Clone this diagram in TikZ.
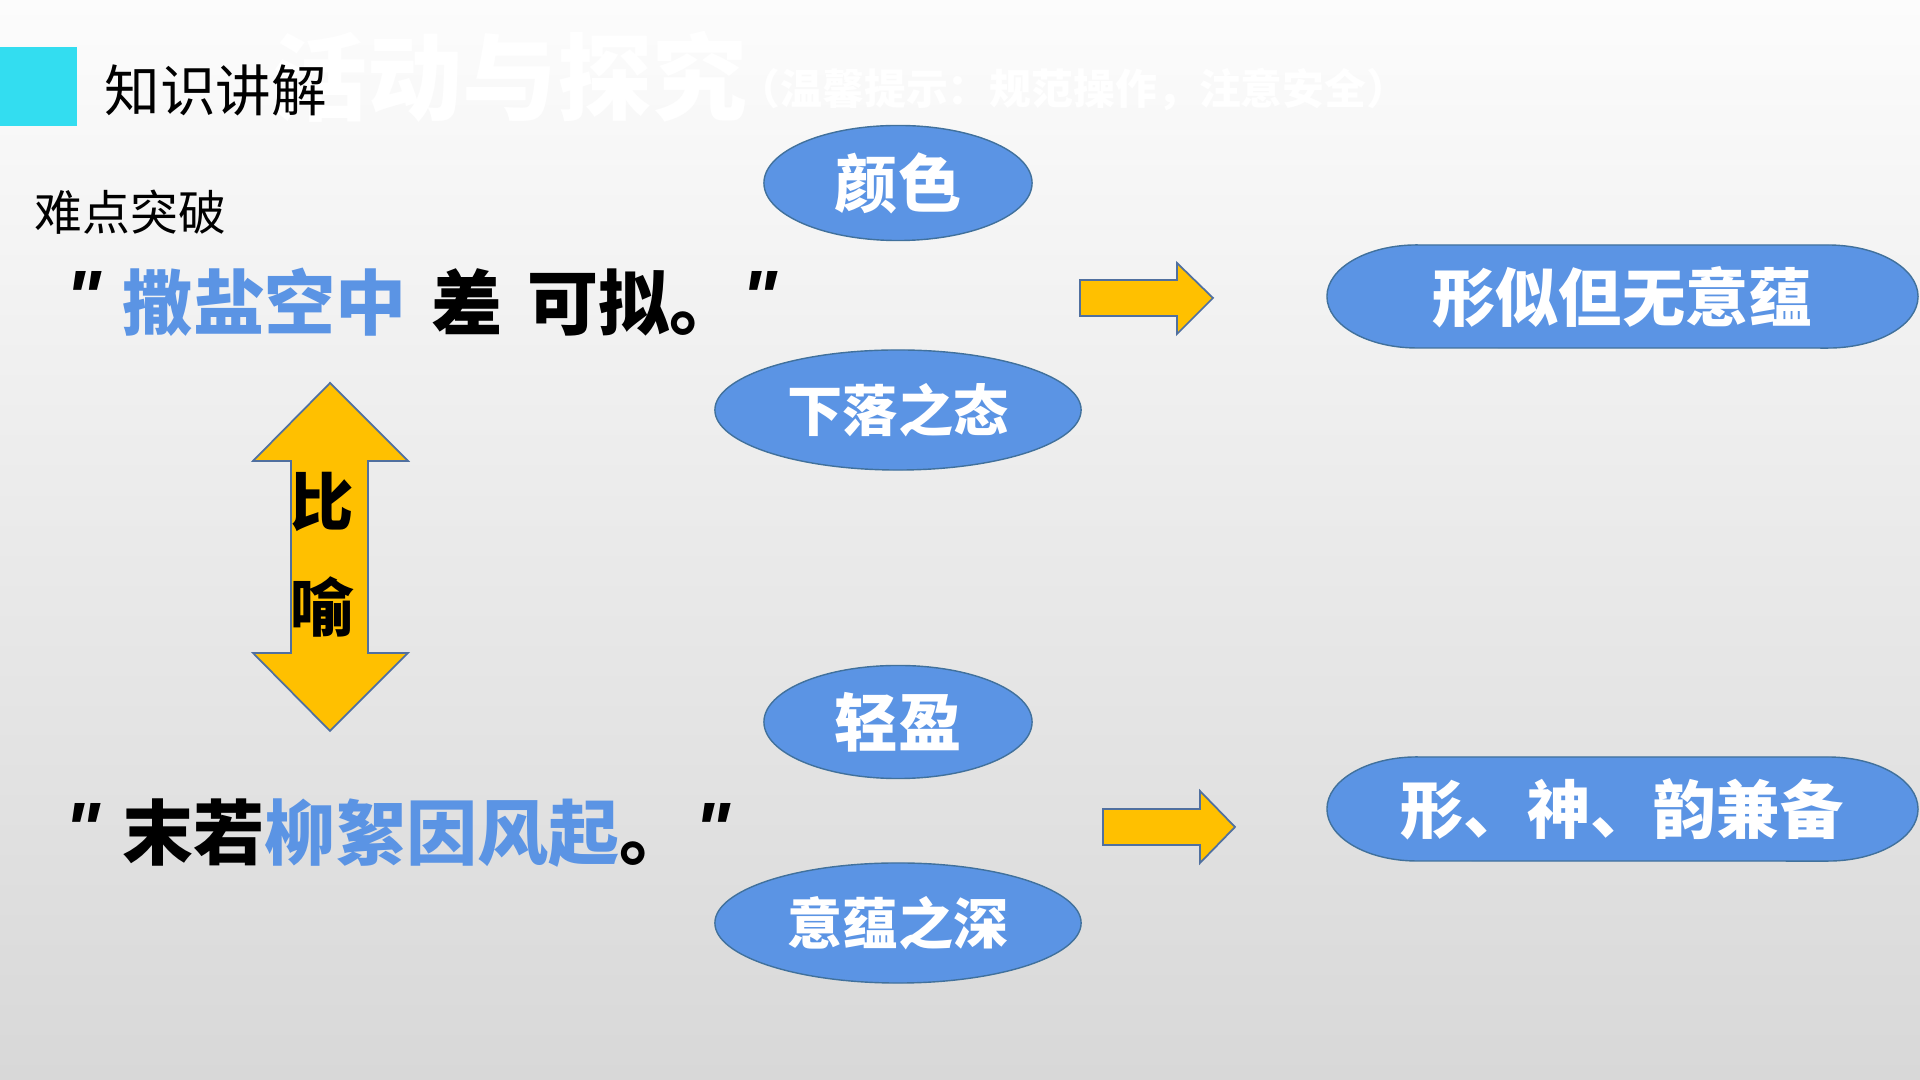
\documentclass[tikz,border=0pt]{standalone}
\usepackage{fontspec}
\setmainfont{Noto Sans CJK SC}
\newfontfamily\quotefont{Liberation Sans}
\usepackage{tikz}
\usetikzlibrary{shapes.geometric}
\definecolor{bgtop}{RGB}{252,252,252}
\definecolor{bgbottom}{RGB}{216,216,216}
\definecolor{tabcyan}{RGB}{51,221,240}
\definecolor{bubbleblue}{RGB}{91,148,228}
\definecolor{bubbleline}{RGB}{65,113,156}
\definecolor{arrowgold}{RGB}{255,192,0}
\definecolor{arrowline}{RGB}{80,112,160}

\begin{document}
\begin{tikzpicture}[x=0.01cm,y=-0.01cm,
    every node/.style={inner sep=0pt},
    bubble/.style={ellipse,draw=bubbleline,line width=0.4pt,fill=bubbleblue,text=white},
    capsule/.style={draw=bubbleline,line width=0.4pt,fill=bubbleblue},
    bigtext/.style={font=\bfseries\fontsize{18}{20}\selectfont},
    smalltext/.style={font=\bfseries\fontsize{15.7}{18}\selectfont},
    verse/.style={anchor=west,font=\bfseries\fontsize{20.2}{24}\selectfont},
    quotemark/.style={anchor=base west,font=\quotefont\bfseries\itshape\fontsize{21.5}{24}\selectfont},
    blockarrow/.style={fill=arrowgold,draw=arrowline,line width=0.5pt,line join=miter}]
      % page
      \shade[top color=bgtop,bottom color=bgbottom] (0,0) rectangle (1920,1080);
      \useasboundingbox (0,0) rectangle (1920,1080);
      % heading
      \node[anchor=west,text=white,font=\bfseries\fontsize{27}{30}\selectfont] (ghost) at (272,77) {活动与探究};
      \node[anchor=west,text=white,font=\bfseries\fontsize{11.9}{14}\selectfont] (ghostnote) at (738,90) {（温馨提示：规范操作，注意安全）};
      \fill[tabcyan] (0,47) rectangle (77,126);
      \node[anchor=west,font=\fontsize{15.8}{18}\selectfont] (topic) at (104,90) {知识讲解};
      \node[anchor=west,font=\fontsize{13.6}{16}\selectfont] (focus) at (34,212) {难点突破};
      % the two lines
      \node[verse] (lineA) at (122,302) {\textcolor{bubbleblue}{撒盐空中}\hspace{7pt}差\hspace{7pt}可拟。};
      \node[quotemark] (qAl) at (65,324) {"};
      \node[quotemark] (qAr) at (741,324) {"};
      \node[verse] (lineB) at (122,833) {末若\textcolor{bubbleblue}{柳絮因风起}。};
      \node[quotemark] (qBl) at (64,856) {"};
      \node[quotemark] (qBr) at (694,856) {"};
      % comparison arrow
      \filldraw[blockarrow] (330,383) -- (408,461) -- (368,461) -- (368,653) -- (408,653)
        -- (330,731) -- (253,653) -- (291,653) -- (291,461) -- (253,461) -- cycle;
      \node[font=\bfseries\fontsize{18}{20}\selectfont] (biA) at (322,502) {比};
      \node[font=\bfseries\fontsize{18}{20}\selectfont] (biB) at (322,607) {喻};
      % bubbles
      \node[bubble,bigtext,minimum width=2.68cm,minimum height=1.15cm] (color) at (898,183) {颜色};
      \node[bubble,smalltext,minimum width=3.66cm,minimum height=1.2cm] (fall) at (898,410) {下落之态};
      \node[bubble,bigtext,minimum width=2.68cm,minimum height=1.13cm] (light) at (898,722) {轻盈};
      \node[bubble,smalltext,minimum width=3.66cm,minimum height=1.2cm] (depth) at (898,923) {意蕴之深};
      % results
      \filldraw[capsule] (1417,245) -- (1828,245) arc[start angle=90,end angle=-90,x radius=0.9cm,y radius=0.515cm]
        -- (1417,348) arc[start angle=270,end angle=90,x radius=0.9cm,y radius=0.515cm] -- cycle;
      \node[bigtext,text=white] (resA) at (1622,297) {形似但无意蕴};
      \filldraw[capsule] (1417,757) -- (1828,757) arc[start angle=90,end angle=-90,x radius=0.9cm,y radius=0.52cm]
        -- (1417,861) arc[start angle=270,end angle=90,x radius=0.9cm,y radius=0.52cm] -- cycle;
      \node[bigtext,text=white] (resB) at (1622,809) {形、神、韵兼备};
      % right arrows
      \filldraw[blockarrow] (1080,280) -- (1177,280) -- (1177,263) -- (1213,298) -- (1177,334)
        -- (1177,316) -- (1080,316) -- cycle;
      \filldraw[blockarrow] (1103,809) -- (1200,809) -- (1200,791) -- (1235,827) -- (1200,863)
        -- (1200,845) -- (1103,845) -- cycle;
\end{tikzpicture}
\end{document}
